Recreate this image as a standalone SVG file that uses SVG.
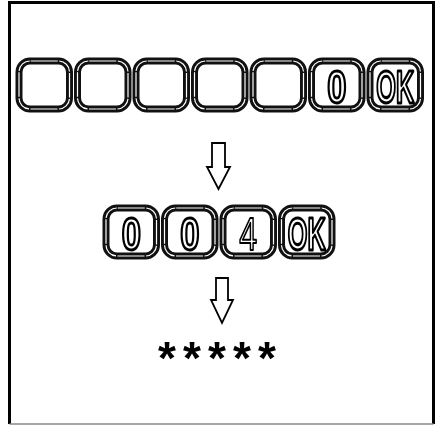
<svg xmlns="http://www.w3.org/2000/svg" width="440" height="425" viewBox="0 0 440 425">
<defs>
<filter id="flat" x="-10%" y="-10%" width="120%" height="120%"><feOffset dx="0" dy="0"/></filter>
</defs>
<style>
.k{fill:#fff;stroke:#111;stroke-width:7}
.ki{fill:none;stroke:#fff;stroke-width:1.2;stroke-dasharray:27 1.5 15.8 1.5 24.5 1.5 15.8 1.5;stroke-dashoffset:-0.75}
.t{font-family:"Liberation Sans",Arial,sans-serif;font-weight:bold;font-size:46px;fill:#fff;stroke:#000;stroke-width:2.6;vector-effect:non-scaling-stroke;text-anchor:middle;stroke-linejoin:round}
.t4{font-weight:normal;stroke-width:1.8}
.ar{fill:#fff;stroke:#000;stroke-width:1.8;stroke-linejoin:miter}
.st{font-family:"Liberation Sans",Arial,sans-serif;font-weight:bold;font-size:46px;fill:#000;text-anchor:middle}
</style>
<rect width="440" height="425" fill="#fff"/>
<g id="frame">
<path d="M9.5,424 V2.5 H433.5 V424" fill="none" stroke="#000" stroke-width="3"/>
<path d="M9.5,424 H433.5" fill="none" stroke="#888" stroke-width="1.5"/>
</g>
<g id="row1">
<g id="k1"><rect class="k" x="19" y="61" width="50.5" height="48" rx="11"/><rect class="ki" x="19" y="61" width="50.5" height="48" rx="11"/></g>
<g id="k2"><rect class="k" x="77.5" y="61" width="50.5" height="48" rx="11"/><rect class="ki" x="77.5" y="61" width="50.5" height="48" rx="11"/></g>
<g id="k3"><rect class="k" x="136" y="61" width="50.5" height="48" rx="11"/><rect class="ki" x="136" y="61" width="50.5" height="48" rx="11"/></g>
<g id="k4"><rect class="k" x="194.5" y="61" width="50.5" height="48" rx="11"/><rect class="ki" x="194.5" y="61" width="50.5" height="48" rx="11"/></g>
<g id="k5"><rect class="k" x="253" y="61" width="50.5" height="48" rx="11"/><rect class="ki" x="253" y="61" width="50.5" height="48" rx="11"/></g>
<g id="k6"><rect class="k" x="311.5" y="61" width="50.5" height="48" rx="11"/><rect class="ki" x="311.5" y="61" width="50.5" height="48" rx="11"/>
<g filter="url(#flat)"><text class="t" transform="translate(336.75,103) scale(0.75,1)">0</text></g></g>
<g id="k7"><rect class="k" x="370" y="61" width="50.5" height="48" rx="11"/><rect class="ki" x="370" y="61" width="50.5" height="48" rx="11"/>
<g filter="url(#flat)"><text class="t" transform="translate(395.25,103) scale(0.55,1)">OK</text></g></g>
</g>
<g id="row2">
<g id="m1"><rect class="k" x="106" y="208" width="50.5" height="48" rx="11"/><rect class="ki" x="106" y="208" width="50.5" height="48" rx="11"/>
<g filter="url(#flat)"><text class="t" transform="translate(131.25,250) scale(0.75,1)">0</text></g></g>
<g id="m2"><rect class="k" x="164.5" y="208" width="50.5" height="48" rx="11"/><rect class="ki" x="164.5" y="208" width="50.5" height="48" rx="11"/>
<g filter="url(#flat)"><text class="t" transform="translate(189.75,250) scale(0.75,1)">0</text></g></g>
<g id="m3"><rect class="k" x="223" y="208" width="50.5" height="48" rx="11"/><rect class="ki" x="223" y="208" width="50.5" height="48" rx="11"/>
<g filter="url(#flat)"><text class="t t4" transform="translate(248.25,250) scale(0.7,1)">4</text></g></g>
<g id="m4"><rect class="k" x="281.5" y="208" width="50.5" height="48" rx="11"/><rect class="ki" x="281.5" y="208" width="50.5" height="48" rx="11"/>
<g filter="url(#flat)"><text class="t" transform="translate(306.75,250) scale(0.55,1)">OK</text></g></g>
</g>
<g id="connectors">
<path class="ar" d="M212,143 H225 V167 H230 L218.5,189 L207,167 H212 Z"/>
<path class="ar" d="M216,278 H228 V300 H233 L222,323 L211,300 H216 Z"/>
</g>
<g id="result" filter="url(#flat)">
<text class="st" x="167 192 217 242 267" y="374">*****</text>
</g>
</svg>
